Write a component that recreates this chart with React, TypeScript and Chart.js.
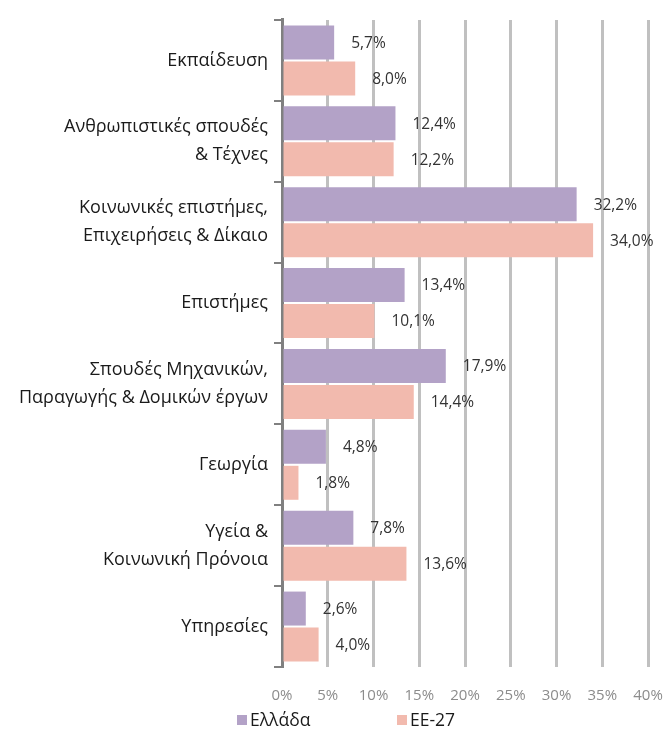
import React, { useEffect, useRef } from "react";
import { Chart, registerables } from "chart.js";

Chart.register(...registerables);

const categories: (string | string[])[] = [
  "Εκπαίδευση",
  ["Ανθρωπιστικές σπουδές", "& Τέχνες"],
  ["Κοινωνικές επιστήμες,", "Επιχειρήσεις & Δίκαιο"],
  "Επιστήμες",
  ["Σπουδές Μηχανικών,", "Παραγωγής & Δομικών έργων"],
  "Γεωργία",
  ["Υγεία &", "Κοινωνική Πρόνοια"],
  "Υπηρεσίες",
];
const greece = [5.7, 12.4, 32.2, 13.4, 17.9, 4.8, 7.8, 2.6];
const eu27 = [8.0, 12.2, 34.0, 10.1, 14.4, 1.8, 13.6, 4.0];
const seriesNames = ["Ελλάδα", "ΕΕ-27"];
const colors = ["#B3A2C7", "#F2BAAE"];

const FONT = "'Open Sans', 'DejaVu Sans', sans-serif";

const labelPlugin = {
  id: "valueLabels",
  afterDatasetsDraw(chart: any) {
    const ctx = chart.ctx;
    ctx.save();
    ctx.font = `15.5px ${FONT}`;
    ctx.fillStyle = "#333333";
    ctx.textAlign = "left";
    ctx.textBaseline = "middle";
    chart.data.datasets.forEach((ds: any, di: number) => {
      const meta = chart.getDatasetMeta(di);
      meta.data.forEach((bar: any, i: number) => {
        const v = ds.data[i] as number;
        const txt = v.toFixed(1).replace(".", ",") + "%";
        ctx.fillText(txt, bar.x + 17, bar.y + 1);
      });
    });
    ctx.restore();
  },
};

const legendPlugin = {
  id: "customLegend",
  afterDraw(chart: any) {
    const ctx = chart.ctx;
    ctx.save();
    ctx.font = `17.5px ${FONT}`;
    ctx.textBaseline = "middle";
    ctx.textAlign = "left";
    const y = 721;
    const xs = [237, 397];
    seriesNames.forEach((name, i) => {
      ctx.fillStyle = colors[i];
      ctx.fillRect(xs[i], y - 6, 10, 10);
      ctx.fillStyle = "#1a1a1a";
      ctx.fillText(name, xs[i] + 13, y);
    });
    ctx.restore();
  },
};

export default function App() {
  const ref = useRef<HTMLCanvasElement>(null);
  useEffect(() => {
    document.body.style.margin = "0";
    const chart = new Chart(ref.current!, {
      type: "bar",
      data: {
        labels: categories,
        datasets: [
          {
            label: seriesNames[0],
            data: greece,
            backgroundColor: colors[0],
            categoryPercentage: 0.89,
            barPercentage: 0.944,
          },
          {
            label: seriesNames[1],
            data: eu27,
            backgroundColor: colors[1],
            categoryPercentage: 0.89,
            barPercentage: 0.944,
          },
        ],
      },
      options: {
        indexAxis: "y",
        responsive: false,
        animation: false,
        layout: { padding: { top: 18, bottom: 10, left: 8, right: 16 } },
        plugins: {
          legend: { display: false },
          tooltip: { enabled: false },
        },
        scales: {
          x: {
            min: 0,
            max: 40,
            afterFit: (scale: any) => {
              scale.paddingRight = 0;
              scale.paddingLeft = 0;
            },
            ticks: {
              stepSize: 5,
              color: "#8C8C8C",
              font: { family: FONT, size: 15 },
              padding: 20,
              callback: (v: any) => v + "%",
            },
            grid: { color: "#C0C0C0", lineWidth: 3, drawTicks: false },
            border: { display: false },
          },
          y: {
            afterFit: (scale: any) => {
              scale.width = 274;
            },
            ticks: {
              color: "#1a1a1a",
              font: { family: FONT, size: 18, lineHeight: 1.55 },
              padding: 6,
            },
            grid: {
              offset: true,
              drawOnChartArea: false,
              drawTicks: true,
              tickLength: 8,
              color: "#808080",
              lineWidth: 2,
            },
            border: { display: true, color: "#808080", width: 3 },
          },
        },
      },
      plugins: [labelPlugin, legendPlugin],
    });
    return () => chart.destroy();
  }, []);
  return <canvas ref={ref} width={664} height={735} style={{ display: "block" }} />;
}
